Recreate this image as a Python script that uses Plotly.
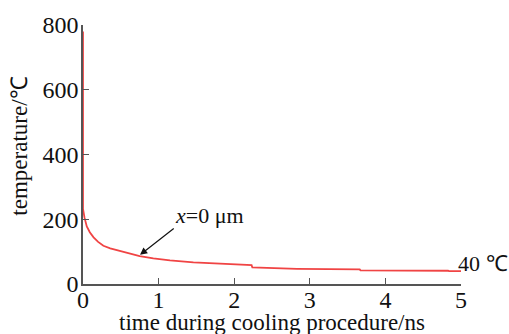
import plotly.graph_objects as go

# Surface temperature during cooling (x = 0 µm)
time_ns = [0, 0, 0.02, 0.05, 0.09, 0.14, 0.2, 0.27, 0.36, 0.45, 0.58, 0.75, 0.93,
           1.15, 1.46, 1.81, 2.23, 2.24, 2.83, 3.66, 3.67, 4.83, 4.84, 5.0]
temperature_c = [780, 232, 205, 178, 160, 144, 130, 118, 110, 104, 95, 86, 79,
                 73, 67, 62, 58, 51, 47, 45, 42, 41, 40, 40]

x_ticks = [0, 1, 2, 3, 4, 5]
y_ticks = [0, 200, 400, 600, 800]

curve_label = "<i>x</i>=0 μm"
end_label = "40 ℃"
x_title = "time during cooling procedure/ns"
y_title = "temperature/℃"

# arrow from the label towards the curve (data coordinates)
arrow_tip = (0.754, 90)
arrow_tail = (1.22, 175)

FONT = "Liberation Serif"
AXIS = "#555555"

fig = go.Figure()
fig.add_trace(go.Scatter(
    x=time_ns, y=temperature_c, mode="lines",
    line=dict(color="#f04444", width=1.8),
    showlegend=False, hoverinfo="skip",
))

axis_common = dict(
    showline=True, linecolor=AXIS, linewidth=1.5,
    ticks="inside", ticklen=6, tickwidth=1.3, tickcolor=AXIS,
    showgrid=False, zeroline=False,
    tickfont=dict(family=FONT, size=24, color="#111111"),
)

fig.update_layout(
    width=509, height=334,
    margin=dict(l=83, r=48, t=22, b=50),
    paper_bgcolor="white", plot_bgcolor="white",
    font=dict(family=FONT, color="#111111"),
    xaxis=dict(range=[0, 5], tickvals=x_ticks, ticklabelstandoff=-7, **axis_common),
    yaxis=dict(range=[0, 800], tickvals=y_ticks, ticklabelstandoff=-2, **axis_common),
    annotations=[
        dict(text=x_title, xref="paper", yref="paper", x=0.5, y=-0.15,
             xanchor="center", yanchor="middle", showarrow=False,
             font=dict(family=FONT, size=23, color="#111111")),
        dict(text=y_title, xref="paper", yref="paper", x=-0.1667, y=0.534,
             xanchor="center", yanchor="middle", showarrow=False, textangle=-90,
             font=dict(family=FONT, size=23, color="#111111")),
        dict(text=curve_label, xref="x", yref="y", x=1.67, y=212,
             xanchor="center", yanchor="middle", showarrow=False,
             font=dict(family=FONT, size=22, color="#111111")),
        dict(text="", xref="x", yref="y", x=arrow_tip[0], y=arrow_tip[1],
             axref="x", ayref="y", ax=arrow_tail[0], ay=arrow_tail[1],
             showarrow=True, arrowhead=2, arrowsize=1.2, arrowwidth=1.2,
             arrowcolor="#111111", standoff=0),
        dict(text=end_label, xref="x", yref="y", x=4.93, y=62,
             xanchor="left", yanchor="middle", showarrow=False,
             font=dict(family=FONT, size=22, color="#111111")),
    ],
)

fig.write_html("out.html")
